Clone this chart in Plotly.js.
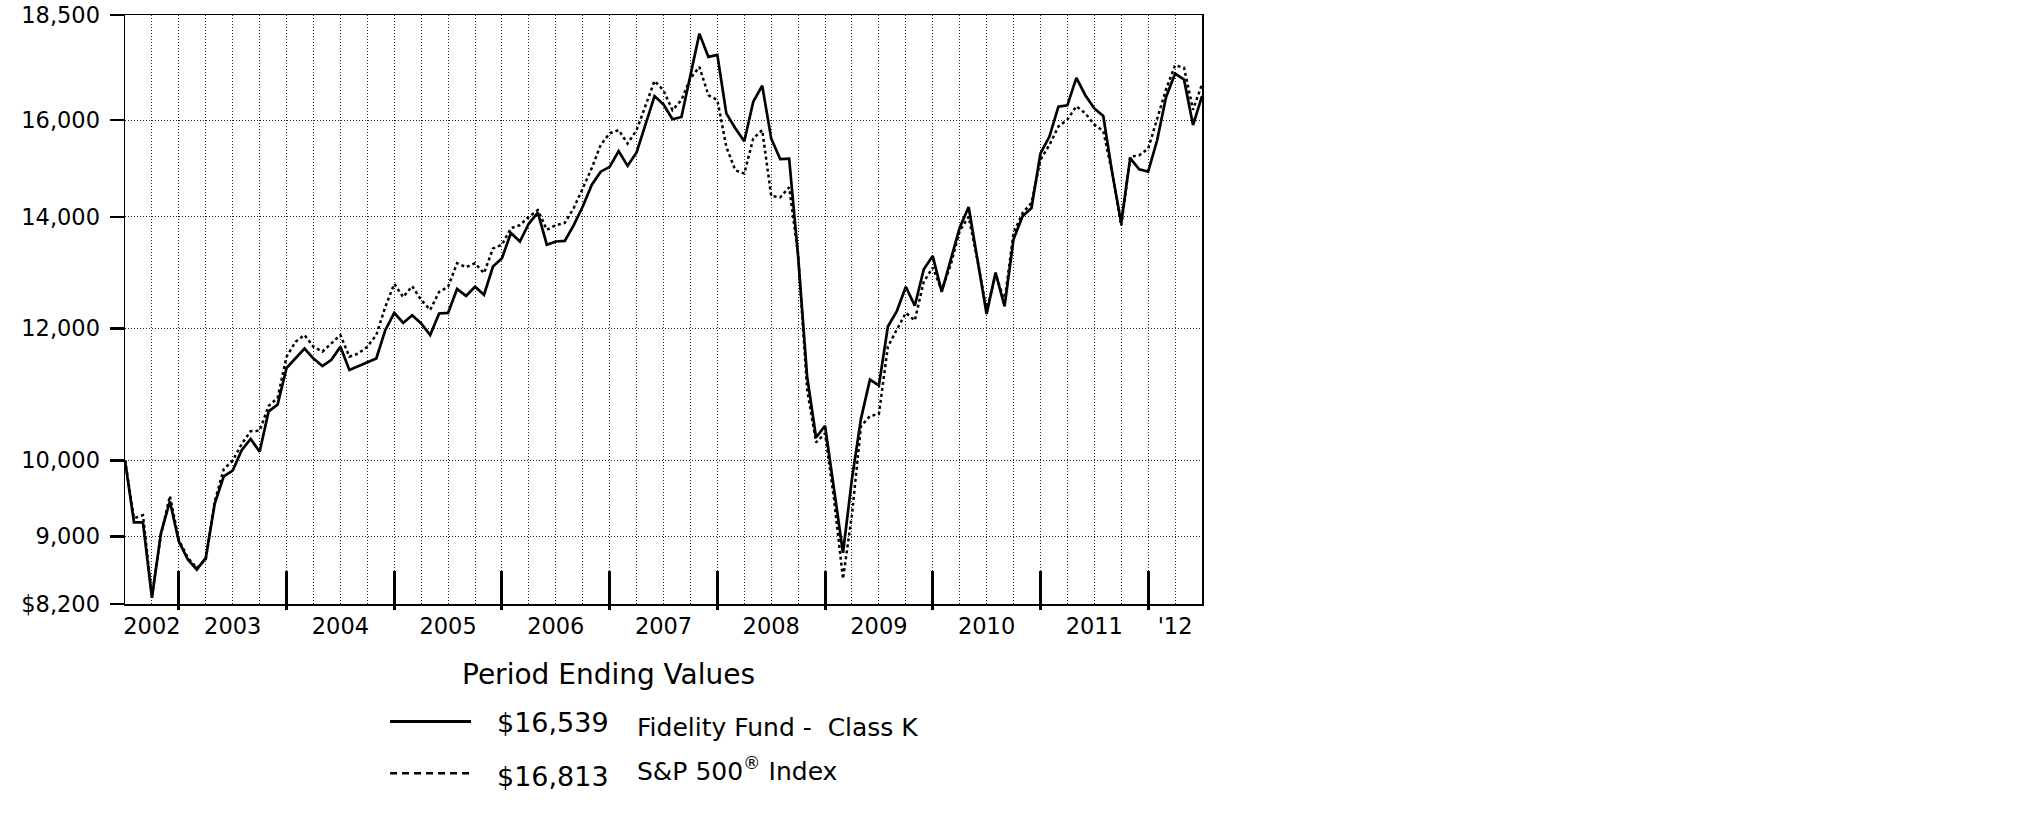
<!DOCTYPE html>
<html>
<head>
<meta charset="utf-8">
<script src="https://cdn.plot.ly/plotly-3.0.1.min.js"></script>
<style>
  html, body { margin: 0; padding: 0; background: #fff; }
  #graph { width: 2025px; height: 828px; }
</style>
</head>
<body>
<div id="graph"></div>
<script>
// Month-end values, Jun 2002 .. Jun 2012 (121 points)
const fundK = [
  10000, 9180, 9180, 8270, 9040, 9450, 8940, 8720, 8600, 8740,
  9420, 9780, 9860, 10140, 10300, 10120, 10700, 10800, 11360, 11510,
  11670, 11510, 11390, 11490, 11700, 11330, 11390, 11460, 11510, 11970,
  12260, 12090, 12220, 12080, 11890, 12250, 12260, 12670, 12550, 12710,
  12570, 13070, 13220, 13690, 13530, 13870, 14080, 13470, 13530, 13540,
  13840, 14200, 14630, 14900, 15000, 15330, 15020, 15300, 15890, 16540,
  16350, 16020, 16070, 17050, 18030, 17460, 17510, 16150, 15820, 15540,
  16410, 16780, 15600, 15160, 15170, 13250, 11230, 10320, 10490, 9610,
  8800, 9750, 10590, 11180, 11090, 12030, 12290, 12710, 12380, 13020,
  13260, 12620, 13170, 13790, 14190, 13170, 12240, 12960, 12370, 13570,
  14010, 14170, 15280, 15640, 16300, 16330, 16960, 16560, 16260, 16090,
  14870, 13880, 15180, 14950, 14900, 15560, 16520, 17060, 16920, 15890,
  16539
];
const sp500 = [
  10000, 9230, 9270, 8290, 9020, 9520, 8960, 8740, 8620, 8720,
  9450, 9880, 9995, 10230, 10410, 10420, 10780, 10900, 11540, 11780,
  11890, 11700, 11620, 11760, 11890, 11540, 11590, 11700, 11890, 12360,
  12760, 12530, 12720, 12480, 12310, 12620, 12710, 13130, 13060, 13130,
  12950, 13400, 13470, 13780, 13840, 14000, 14130, 13750, 13840, 13880,
  14170, 14560, 14970, 15460, 15710, 15780, 15490, 15780, 16340, 16890,
  16670, 16220, 16450, 16950, 17220, 16560, 16450, 15420, 14930, 14860,
  15600, 15780, 14410, 14380, 14580, 13300, 11030, 10250, 10380, 9480,
  8490, 9280, 10480, 10630, 10660, 11700, 11980, 12260, 12130, 12800,
  13050, 12650, 13100, 13730, 14000, 13170, 12300, 12930, 12460, 13690,
  14070, 14270, 15150, 15460, 15860, 16010, 16310, 16150, 15900, 15760,
  14870, 13830, 15210, 15240, 15380, 16010, 16700, 17260, 17200, 16230,
  16813
];

// axis labels
const yearLabels = ['2002', '2003', '2004', '2005', '2006', '2007', '2008', '2009', '2010', '2011', "'12"];
const yearLabelAt = [3, 12, 24, 36, 48, 60, 72, 84, 96, 108, 117];   // month index of each label
const yearEndAt = [6, 18, 30, 42, 54, 66, 78, 90, 102, 114];         // December ticks
const yTicks = [8200, 9000, 10000, 12000, 14000, 16000, 18500];
const yTickText = ['$8,200', '9,000', '10,000', '12,000', '14,000', '16,000', '18,500'];

const fundName = 'Fidelity Fund -  Class K';
const indexName = 'S&P 500<sup>®</sup> Index';
const fundEnd = '$16,539';
const indexEnd = '$16,813';

const months = fundK.map((v, i) => i);

// quarterly grid, labels only on some of them
const quarterTicks = [];
for (let m = 3; m < 120; m += 3) quarterTicks.push(m);
const quarterText = quarterTicks.map(m => {
  const k = yearLabelAt.indexOf(m);
  return k >= 0 ? yearLabels[k] : '';
});

const FONT = 'DejaVu Sans, Arial, sans-serif';

const traces = [
  {
    x: months, y: sp500, type: 'scatter', mode: 'lines', name: 'S&P 500 Index',
    line: { color: '#000', width: 2.5, dash: '3px,3px' }
  },
  {
    x: months, y: fundK, type: 'scatter', mode: 'lines', name: 'Fidelity Fund - Class K',
    line: { color: '#000', width: 2.7 }
  },
  // empty carriers so the two tick-only axes get drawn
  { x: [months[0]], y: [fundK[0]], xaxis: 'x2', mode: 'none', hoverinfo: 'skip', showlegend: false },
  { x: [months[0]], y: [fundK[0]], xaxis: 'x3', mode: 'none', hoverinfo: 'skip', showlegend: false }
];

const overlayAxis = (ticks, len) => ({
  overlaying: 'x', anchor: 'y', side: 'bottom',
  range: [0, 120], fixedrange: true,
  tickmode: 'array', tickvals: yearEndAt, showticklabels: false,
  ticks: ticks, ticklen: len, tickwidth: 3, tickcolor: '#000',
  showgrid: false, zeroline: false, showline: false
});

const layout = {
  width: 2025, height: 828,
  margin: { l: 125, r: 823, t: 15, b: 224 },
  paper_bgcolor: '#fff', plot_bgcolor: '#fff',
  showlegend: false,
  font: { family: FONT, color: '#000', size: 22 },
  xaxis: {
    range: [0, 120], fixedrange: true,
    tickmode: 'array', tickvals: quarterTicks, ticktext: quarterText,
    ticks: '', ticklabelstandoff: 1,
    tickfont: { family: FONT, size: 22.5, color: '#000' },
    showgrid: true, gridcolor: '#222', gridwidth: 1, griddash: '1px,2px',
    zeroline: false, showline: true, mirror: true, linecolor: '#000', linewidth: 1.5
  },
  xaxis2: overlayAxis('inside', 33),
  xaxis3: overlayAxis('outside', 5),
  yaxis: {
    type: 'log', fixedrange: true,
    range: [Math.log10(8200), Math.log10(18500)],
    tickmode: 'array', tickvals: yTicks, ticktext: yTickText,
    ticks: 'outside', ticklen: 14, tickwidth: 2.5, tickcolor: '#000',
    ticklabelstandoff: 5,
    tickfont: { family: FONT, size: 22.5, color: '#000' },
    showgrid: true, gridcolor: '#222', gridwidth: 1, griddash: '1px,2px',
    zeroline: false, showline: true, mirror: true, linecolor: '#000', linewidth: 1.5
  },
  shapes: [
    { type: 'line', xref: 'paper', yref: 'paper', x0: 0.2461, x1: 0.3213, y0: -0.1995, y1: -0.1995,
      line: { color: '#000', width: 3 } },
    { type: 'line', xref: 'paper', yref: 'paper', x0: 0.2461, x1: 0.3213, y0: -0.2872, y1: -0.2872,
      line: { color: '#000', width: 2.5, dash: '7px,5px' } }
  ],
  annotations: [
    { xref: 'paper', yref: 'paper', x: 0.4485, y: -0.1197, xanchor: 'center', yanchor: 'middle',
      text: 'Period Ending Values', showarrow: false, font: { family: FONT, size: 28, color: '#000' } },
    { xref: 'paper', yref: 'paper', x: 0.3435, y: -0.2012, xanchor: 'left', yanchor: 'middle',
      text: fundEnd, showarrow: false, font: { family: FONT, size: 27, color: '#000' } },
    { xref: 'paper', yref: 'paper', x: 0.4735, y: -0.2097, xanchor: 'left', yanchor: 'middle',
      text: fundName, showarrow: false, font: { family: FONT, size: 25, color: '#000' } },
    { xref: 'paper', yref: 'paper', x: 0.3435, y: -0.2935, xanchor: 'left', yanchor: 'middle',
      text: indexEnd, showarrow: false, font: { family: FONT, size: 27, color: '#000' } },
    { xref: 'paper', yref: 'paper', x: 0.4735, y: -0.2810, xanchor: 'left', yanchor: 'middle',
      text: indexName, showarrow: false, font: { family: FONT, size: 25, color: '#000' } }
  ]
};

Plotly.newPlot('graph', traces, layout, { staticPlot: true, displayModeBar: false });
</script>
</body>
</html>
